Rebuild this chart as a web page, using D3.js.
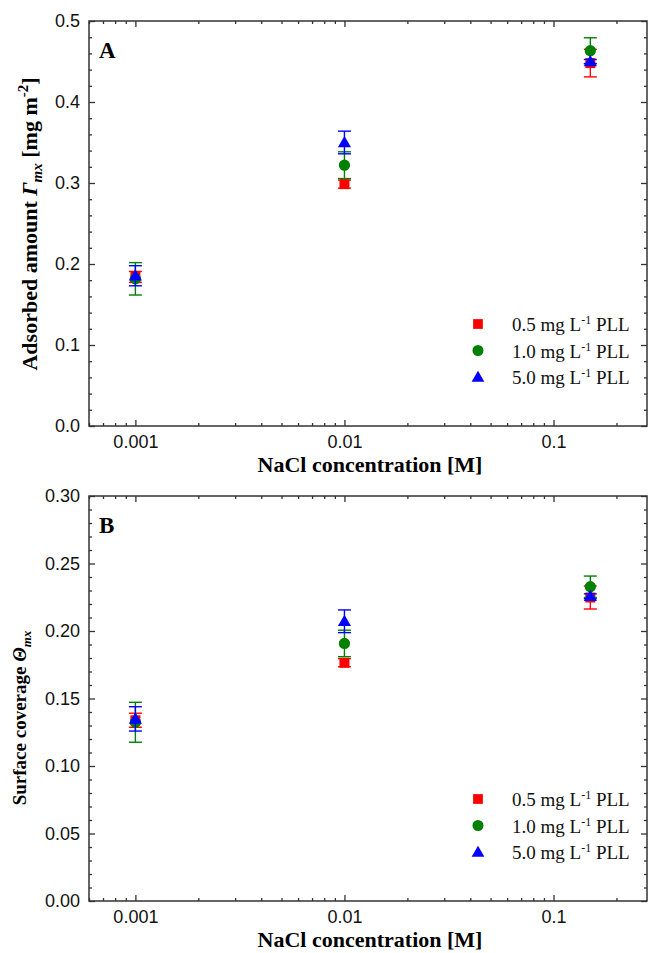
<!DOCTYPE html>
<html lang='en'>
<head>
	<meta charset='UTF-8'/>
	<title>PLL adsorption vs NaCl</title>
	<script src='https://cdnjs.cloudflare.com/ajax/libs/d3/7.8.5/d3.min.js'></script>
	<style>
		body {margin: 0; background: #fff;}
		svg {display: block; font-family: 'Liberation Serif', 'Times New Roman', serif;}
		.tick text {font-size: 18px; fill: #111;}
		.tick line {stroke: #333; stroke-width: 1.3;}
		.frame {fill: none; stroke: #333; stroke-width: 1.5;}
	</style>
</head>
<body>
	<div class='graph'></div>
	<script>
		// data
		const concentrations = [0.001, 0.01, 0.15];
		const seriesLabels = ['0.5', '1.0', '5.0'];
		const seriesColors = ['#ff0000', '#008000', '#0000ff'];
		const seriesShapes = [d3.symbolSquare, d3.symbolCircle, d3.symbolTriangle];

		// panel A: adsorbed amount
		const adsorbed05 = [0.184, 0.2986, 0.448];
		const adsorbed10 = [0.1817, 0.322, 0.4633];
		const adsorbed50 = [0.1855, 0.350, 0.450];
		const adsorbedErr05 = [0.0068, 0.005, 0.017];
		const adsorbedErr10 = [0.020, 0.0165, 0.016];
		const adsorbedErr50 = [0.0124, 0.014, 0.0025];
		const adsorbedTicks = [0, 0.1, 0.2, 0.3, 0.4, 0.5];

		// panel B: surface coverage
		const coverage05 = [0.1339, 0.1765, 0.2248];
		const coverage10 = [0.1324, 0.1908, 0.2328];
		const coverage50 = [0.1349, 0.2072, 0.2257];
		const coverageErr05 = [0.0052, 0.003, 0.0085];
		const coverageErr10 = [0.0148, 0.0098, 0.0079];
		const coverageErr50 = [0.009, 0.0084, 0.0018];
		const coverageTicks = [0, 0.05, 0.10, 0.15, 0.20, 0.25, 0.30];

		const xMajorTicks = [0.001, 0.01, 0.1];

		const width = 649, height = 953;
		const svg = d3.select('.graph').append('svg')
			.attr('width', width)
			.attr('height', height);

		function drawPanel(opt) {
			const left = 89, right = 647;
			const top = opt.top, bottom = opt.top + 405;
			const g = svg.append('g');

			const x = d3.scaleLog().domain([0.0006, 0.28]).range([left, right]);
			const y = d3.scaleLinear().domain([0, opt.yMax]).range([bottom, top]);

			const minorX = x.ticks().filter(t => !xMajorTicks.some(m => Math.abs(m - t) < 1e-12));
			const minorY = d3.range(0, opt.yMax + 1e-9, opt.yMinor)
				.filter(v => !opt.yTicks.some(m => Math.abs(m - v) < 1e-9));

			// bottom axis (ticks inward)
			g.append('g').attr('transform', `translate(0,${bottom})`)
				.call(d3.axisBottom(x).tickValues(xMajorTicks).tickSize(-6).tickPadding(9)
					.tickFormat(d3.format('')));
			g.append('g').attr('transform', `translate(0,${bottom})`)
				.call(d3.axisBottom(x).tickValues(minorX).tickSize(-3).tickFormat(''));
			// top axis
			g.append('g').attr('transform', `translate(0,${top})`)
				.call(d3.axisTop(x).tickValues(xMajorTicks).tickSize(-6).tickFormat(''));
			g.append('g').attr('transform', `translate(0,${top})`)
				.call(d3.axisTop(x).tickValues(minorX).tickSize(-3).tickFormat(''));
			// left axis
			g.append('g').attr('transform', `translate(${left},0)`)
				.call(d3.axisLeft(y).tickValues(opt.yTicks).tickSize(-6).tickPadding(9)
					.tickFormat(d3.format(opt.yFormat)));
			g.append('g').attr('transform', `translate(${left},0)`)
				.call(d3.axisLeft(y).tickValues(minorY).tickSize(-3).tickFormat(''));
			// right axis
			g.append('g').attr('transform', `translate(${right},0)`)
				.call(d3.axisRight(y).tickValues(opt.yTicks).tickSize(-6).tickFormat(''));
			g.append('g').attr('transform', `translate(${right},0)`)
				.call(d3.axisRight(y).tickValues(minorY).tickSize(-3).tickFormat(''));
			g.selectAll('.domain').remove();

			g.append('rect').attr('class', 'frame')
				.attr('x', left).attr('y', top)
				.attr('width', right - left).attr('height', bottom - top);

			// panel letter
			g.append('text')
				.attr('x', 99).attr('y', top + 37)
				.style('font-size', '23px').style('font-weight', 'bold')
				.text(opt.letter);

			// x title
			g.append('text')
				.attr('x', 370).attr('y', bottom + 46)
				.attr('text-anchor', 'middle')
				.style('font-size', '22px').style('font-weight', 'bold')
				.text('NaCl concentration [M]');

			// y title
			const yt = g.append('text')
				.attr('transform', `translate(${opt.yTitleX},${opt.yTitleCenter}) rotate(-90)`)
				.attr('text-anchor', 'middle')
				.style('font-size', opt.yTitleSize + 'px').style('font-weight', 'bold');
			opt.yTitle(yt);

			// series: error bars then markers
			opt.values.forEach((vals, s) => {
				const col = seriesColors[s];
				const errs = opt.errors[s];
				const eg = g.append('g').attr('stroke', col).attr('stroke-width', 1.4);
				concentrations.forEach((c, i) => {
					const cx = x(c);
					const y0 = y(vals[i] - errs[i]), y1 = y(vals[i] + errs[i]);
					eg.append('line').attr('x1', cx).attr('x2', cx).attr('y1', y0).attr('y2', y1);
					eg.append('line').attr('x1', cx - 6.5).attr('x2', cx + 6.5).attr('y1', y0).attr('y2', y0);
					eg.append('line').attr('x1', cx - 6.5).attr('x2', cx + 6.5).attr('y1', y1).attr('y2', y1);
				});
				g.append('g').selectAll('path')
					.data(concentrations)
					.enter()
					.append('path')
					.attr('d', d3.symbol().type(seriesShapes[s]).size(s === 2 ? 75 : 100))
					.attr('transform', (d, i) => `translate(${x(d)},${y(vals[i]) + (s === 2 ? 1 : 0)})`)
					.attr('fill', col);
			});

			// legend
			seriesLabels.forEach((lab, s) => {
				const ly = top + 303 + s * 26.5;
				g.append('path')
					.attr('d', d3.symbol().type(seriesShapes[s]).size(s === 2 ? 70 : 95))
					.attr('transform', `translate(478,${ly + (s === 2 ? 1 : 0)})`)
					.attr('fill', seriesColors[s]);
				const t = g.append('text')
					.attr('x', 512).attr('y', ly + 7)
					.style('font-size', '19px').attr('fill', '#111');
				t.append('tspan').text(lab + ' mg L');
				t.append('tspan').attr('dy', -7).style('font-size', '12px').text('-1');
				t.append('tspan').attr('dy', 7).text(' PLL');
			});
		}

		drawPanel({
			top: 21, yMax: 0.5, yMinor: 0.02, yTicks: adsorbedTicks, yFormat: '.1f',
			letter: 'A', yTitleCenter: 224, yTitleX: 37, yTitleSize: 22,
			values: [adsorbed05, adsorbed10, adsorbed50],
			errors: [adsorbedErr05, adsorbedErr10, adsorbedErr50],
			yTitle: t => {
				t.append('tspan').text('Adsorbed amount ');
				t.append('tspan').style('font-style', 'italic').text('Γ');
				t.append('tspan').attr('dy', 5).style('font-style', 'italic').style('font-size', '15px').text('mx');
				t.append('tspan').attr('dy', -5).text(' [mg m');
				t.append('tspan').attr('dy', -9).style('font-size', '15px').text('-2');
				t.append('tspan').attr('dy', 9).text(']');
			}
		});

		drawPanel({
			top: 496, yMax: 0.30, yMinor: 0.01, yTicks: coverageTicks, yFormat: '.2f',
			letter: 'B', yTitleCenter: 718, yTitleX: 26, yTitleSize: 19,
			values: [coverage05, coverage10, coverage50],
			errors: [coverageErr05, coverageErr10, coverageErr50],
			yTitle: t => {
				t.append('tspan').text('Surface coverage ');
				t.append('tspan').style('font-style', 'italic').text('Θ');
				t.append('tspan').attr('dy', 5).style('font-style', 'italic').style('font-size', '13px').text('mx');
			}
		});
	</script>
</body>
</html>
